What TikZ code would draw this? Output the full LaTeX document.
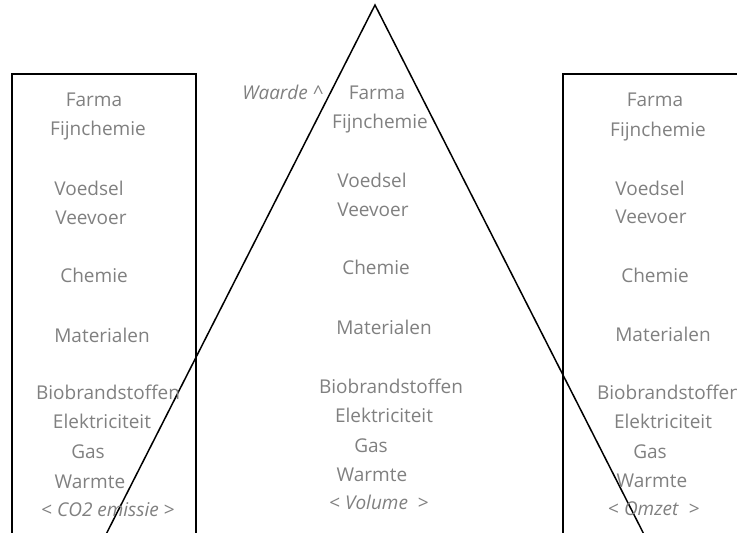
\documentclass[tikz,border=0pt]{standalone}
\usepackage{fontspec}
\setmainfont{Open Sans}
\usetikzlibrary{positioning}
\definecolor{txtgray}{HTML}{808080}

\begin{document}
\begin{tikzpicture}[x=1pt,y=-1pt,
  lbl/.style={text=txtgray,font=\fontsize{19}{23}\selectfont,anchor=base,inner sep=0pt},
  kader/.style={draw,line width=2pt},
  piramide/.style={draw,line width=1.5pt}]
  \clip (0,0) rectangle (737,533);

  % Kaders
  \draw[kader] (12,74) rectangle (196,580);
  \draw[kader] (563,74) rectangle (780,580);

  % Piramide
  \coordinate (top) at (375,5);
  \coordinate (linksvoet) at (93,560);
  \coordinate (rechtsvoet) at (657,560);
  \draw[piramide] (linksvoet) -- (top) -- (rechtsvoet);

  % Linker kolom
  \node[lbl] (lfarma) at (94,106) {Farma};
  \node[lbl] (lfijn) at (98,135) {Fijnchemie};
  \node[lbl] (lvoed) at (89,195) {Voedsel};
  \node[lbl] (lvee) at (91,224) {Veevoer};
  \node[lbl] (lchem) at (94,282) {Chemie};
  \node[lbl] (lmat) at (102,342) {Materialen};
  \node[lbl] (lbio) at (108,399) {Biobrandstoffen};
  \node[lbl] (lelek) at (102,428) {Elektriciteit};
  \node[lbl] (lgas) at (88,458) {Gas};
  \node[lbl] (lwarm) at (90,488) {Warmte};
  \node[lbl] (lco) at (108,516) {< \textit{CO2 emissie} >};

  % Midden kolom
  \node[lbl] (waarde) at (283,99) {\textit{Waarde \^{}}};
  \node[lbl] (mfarma) at (377,99) {Farma};
  \node[lbl] (mfijn) at (380,128) {Fijnchemie};
  \node[lbl] (mvoed) at (372,187) {Voedsel};
  \node[lbl] (mvee) at (373,216) {Veevoer};
  \node[lbl] (mchem) at (376,274) {Chemie};
  \node[lbl] (mmat) at (384,334) {Materialen};
  \node[lbl] (mbio) at (391,393) {Biobrandstoffen};
  \node[lbl] (melek) at (384,422) {Elektriciteit};
  \node[lbl] (mgas) at (371,452) {Gas};
  \node[lbl] (mwarm) at (372,481) {Warmte};
  \node[lbl] (mvol) at (379,509) {< \textit{Volume}\ \ >};

  % Rechter kolom
  \node[lbl] (rfarma) at (655,106) {Farma};
  \node[lbl] (rfijn) at (658,136) {Fijnchemie};
  \node[lbl] (rvoed) at (650,195) {Voedsel};
  \node[lbl] (rvee) at (651,223) {Veevoer};
  \node[lbl] (rchem) at (655,282) {Chemie};
  \node[lbl] (rmat) at (663,341) {Materialen};
  \node[lbl] (rbio) at (669,399) {Biobrandstoffen};
  \node[lbl] (relek) at (663,428) {Elektriciteit};
  \node[lbl] (rgas) at (650,458) {Gas};
  \node[lbl] (rwarm) at (652,487) {Warmte};
  \node[lbl] (romzet) at (654,515) {< \textit{Omzet}\ \ >};
\end{tikzpicture}
\end{document}
